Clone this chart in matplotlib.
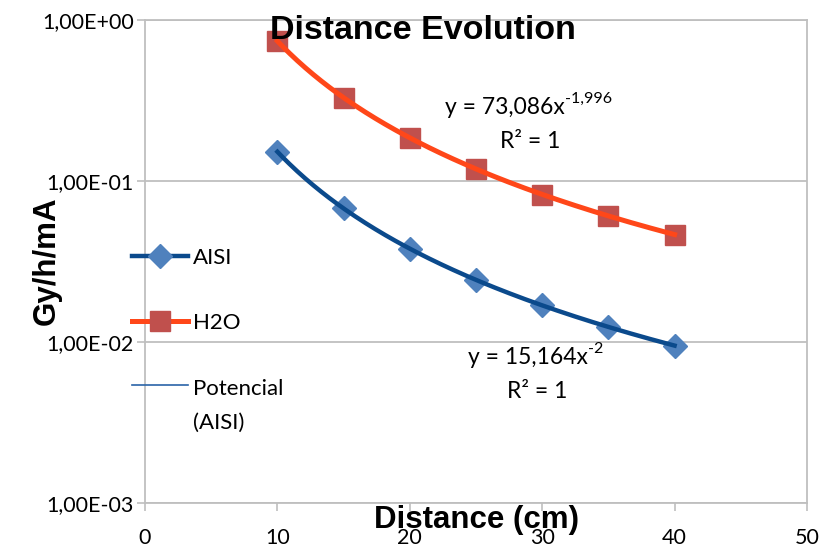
import numpy as np
import matplotlib
matplotlib.use('Agg')
import matplotlib.pyplot as plt
from matplotlib.lines import Line2D
from matplotlib.legend_handler import HandlerLine2D

plt.rcParams['font.family'] = ['Lato', 'DejaVu Sans']

# Données
distance = [10, 15, 20, 25, 30, 35, 40]
aisi = [0.152, 0.0675, 0.038, 0.0243, 0.0169, 0.0124, 0.0095]
h2o = [0.74, 0.33, 0.185, 0.119, 0.082, 0.061, 0.0465]

x_ticks = [0, 10, 20, 30, 40, 50]
y_ticks = [1e-3, 1e-2, 1e-1, 1e0]
y_tick_labels = ['1,00E-03', '1,00E-02', '1,00E-01', '1,00E+00']

BLUE_LINE = '#0B4A8C'
BLUE_MARK = '#4F81BD'
TREND = '#2A64A8'
RED_LINE = '#FF4719'
RED_MARK = '#C0504D'
GRID = '#BFBFBF'


def power_fit(x, y):
    # ajustement puissance (comme la courbe de tendance Excel)
    b, a = np.polyfit(np.log(x), np.log(y), 1)
    xs = np.linspace(min(x), max(x), 200)
    return xs, np.exp(a) * xs ** b


class RaisedLineHandler(HandlerLine2D):
    # pour aligner le trait avec la première ligne du libellé
    def __init__(self, shift, **kw):
        super().__init__(**kw)
        self.shift = shift

    def create_artists(self, legend, orig_handle, xdescent, ydescent,
                       width, height, fontsize, trans):
        arts = super().create_artists(legend, orig_handle, xdescent, ydescent,
                                      width, height, fontsize, trans)
        for a in arts:
            a.set_ydata(np.asarray(a.get_ydata()) + self.shift)
        return arts


fig = plt.figure(figsize=(8.34, 5.48), dpi=100)
ax = fig.add_axes([0.1739, 0.0821, 0.7937, 0.8814])

ax.set_yscale('log')
ax.set_xlim(0, 50)
ax.set_ylim(1e-3, 1e0)

# courbe de tendance (fine) sous la série AISI
xs, ys = power_fit(distance, aisi)
ax.plot(xs, ys, color=TREND, lw=1.0, zorder=2)

# séries lissées
ax.plot(distance, aisi, ls='none', marker='D', ms=12, color=BLUE_MARK, zorder=3)
ax.plot(xs, ys, color=BLUE_LINE, lw=3.2, zorder=4)
xs, ys = power_fit(distance, h2o)
ax.plot(distance, h2o, ls='none', marker='s', ms=14, color=RED_MARK, zorder=3)
ax.plot(xs, ys, color=RED_LINE, lw=3.6, zorder=4)

ax.set_xticks(x_ticks)
ax.set_yticks(y_ticks)
ax.set_yticklabels(y_tick_labels)
ax.yaxis.set_minor_locator(matplotlib.ticker.NullLocator())
ax.tick_params(axis='both', direction='out', length=6, width=1.2, color=GRID,
               labelsize=15.5, pad=2)
ax.tick_params(axis='x', pad=12)
ax.grid(axis='y', color=GRID, lw=1.3)
ax.set_axisbelow(True)
for s in ax.spines.values():
    s.set_color(GRID)
    s.set_linewidth(1.3)

fig.text(0.5066, 0.944, 'Distance Evolution', ha='center', va='center',
         fontsize=24.5, fontweight='bold', family='Liberation Sans')
fig.text(0.571, 0.051, 'Distance (cm)', ha='center', va='center',
         fontsize=22.5, fontweight='bold', family='Liberation Sans')
fig.text(0.056, 0.524, 'Gy/h/mA', ha='center', va='center', rotation=90,
         fontsize=22.5, fontweight='bold', family='Liberation Sans')

# équations des courbes de tendance
t1 = fig.text(445 / 834, 1 - 108 / 548, 'y = 73,086x', ha='left', va='center',
              fontsize=16.5)
ax.annotate('-1,996', xy=(1, 0.58), xycoords=t1, ha='left', va='bottom',
            fontsize=11.5)
fig.text(530 / 834, 1 - 142 / 548, 'R² = 1', ha='center', va='center',
         fontsize=16.5)
t2 = fig.text(468 / 834, 1 - 358 / 548, 'y = 15,164x', ha='left', va='center',
              fontsize=16.5)
ax.annotate('-2', xy=(1, 0.58), xycoords=t2, ha='left', va='bottom',
            fontsize=11.5)
fig.text(537 / 834, 1 - 392 / 548, 'R² = 1', ha='center', va='center',
         fontsize=16.5)

h_aisi = Line2D([], [], color=BLUE_LINE, lw=3.2, marker='D', ms=12,
                markerfacecolor=BLUE_MARK, markeredgecolor=BLUE_MARK)
h_h2o = Line2D([], [], color=RED_LINE, lw=3.6, marker='s', ms=14,
               markerfacecolor=RED_MARK, markeredgecolor=RED_MARK)
h_trend = Line2D([], [], color=TREND, lw=1.2)
leg = ax.legend([h_aisi, h_h2o, h_trend], ['AISI', 'H2O', 'Potencial\n(AISI)'],
                loc='upper left', bbox_to_anchor=(0.158, 0.548),
                bbox_transform=fig.transFigure, frameon=False, fontsize=16,
                handlelength=2.55, handletextpad=0.2, labelspacing=2.05,
                borderpad=0, borderaxespad=0,
                handler_map={h_trend: RaisedLineHandler(shift=15)})
for t in leg.get_texts():
    t.set_linespacing(1.85)

fig.savefig('out.png', dpi=100)
